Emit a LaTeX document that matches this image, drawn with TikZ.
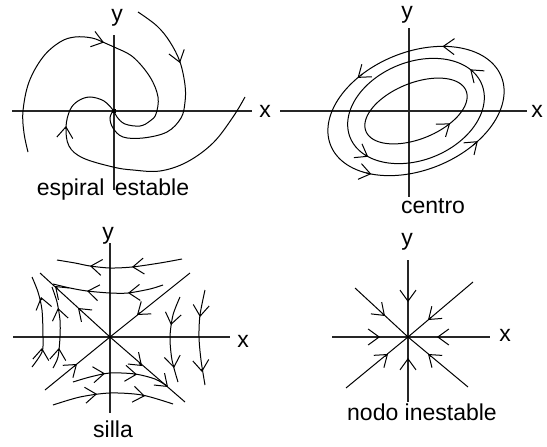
\documentclass[tikz,border=0pt]{standalone}
\usepackage{fontspec}
\setmainfont{Liberation Sans}
\usetikzlibrary{arrows.meta}
\tikzset{
  axis/.style={line width=1.5pt, black!85},
  traj/.style={line width=1pt, black},
  arr/.style={line width=1pt, -{Straight Barb[length=11pt,width=16pt]}},
  lbl/.style={font=\fontsize{23}{27}\selectfont, inner sep=0pt},
}
\newcommand\arh[4]{\draw[arr] ({#1-3*(#3)},{#2-3*(#4)}) -- (#1,#2);}
\newcommand\earh[3]{\draw[arr] ({416+#1*cos(#3-4)*cos(22)-#2*sin(#3-4)*sin(22)},{111-#1*cos(#3-4)*sin(22)-#2*sin(#3-4)*cos(22)}) -- ({416+#1*cos(#3)*cos(22)-#2*sin(#3)*sin(22)},{111-#1*cos(#3)*sin(22)-#2*sin(#3)*cos(22)});}
\newcommand\orbitell[2]{\draw[traj] plot[domain=0:357, samples=120, smooth cycle] ({416+#1*cos(\x)*cos(22)-#2*sin(\x)*sin(22)},{111-#1*cos(\x)*sin(22)-#2*sin(\x)*cos(22)});}
\begin{document}
\begin{tikzpicture}[x=1pt,y=-1pt]
\useasboundingbox (0,0) rectangle (547,447);
% ---------- espiral estable ----------
\draw[axis] (12,111) -- (252,111);
\draw[axis] (114,35) -- (114,190);
\node[lbl] (y1) at (117,18) {y};
\node[lbl] (x1) at (265,111) {x};
\fill (112,109) rectangle (116,113);
\draw[traj] plot[smooth,tension=0.6] coordinates {(28,152) (24,133) (23,111) (29,82) (43,57) (60,42) (75,37) (92,38) (105,43) (114,47) (133,57) (150,77) (158,97) (156,114) (150,121) (140,126) (125,124) (117,117) (114,111)};
\arh{104}{42.5}{1}{0.3}
\draw[traj] plot[smooth,tension=0.6] coordinates {(138,12) (157,26) (170,42) (180,62) (185,85) (185,102) (181,118) (167,132) (143,138) (123,137) (113,128) (110,118) (113,111)};
\arh{180}{63}{0.3}{1}
\draw[traj] plot[smooth,tension=0.6] coordinates {(245,97) (233,117) (213,143) (187,162) (160,171) (133,170) (113,167) (83,158) (69,146) (66,127) (70,110) (78,101) (90,97) (104,101) (113,110)};
\arh{66}{126}{0.1}{-1}
\node[lbl, anchor=base] (t1) at (113,195) {espiral\hspace{4pt} estable};
% ---------- centro ----------
\draw[axis] (280,111) -- (527,111);
\draw[axis] (409,28) -- (409,197);
\node[lbl] (y2) at (407,15) {y};
\node[lbl] (x2) at (537,111) {x};
\orbitell{92}{59}
\orbitell{71}{49}
\orbitell{54}{28}
\earh{92}{59}{58}
\earh{92}{59}{117}
\earh{92}{59}{225}
\earh{92}{59}{300}
\earh{71}{49}{22}
\earh{71}{49}{210}
\earh{54}{28}{300}
\node[lbl, anchor=base] (t2) at (433,213) {centro};
% ---------- silla ----------
\draw[axis] (13,337) -- (230,337);
\draw[axis] (110,243) -- (110,413);
\node[lbl] (y3) at (108,236) {y};
\node[lbl] (x3) at (243,341) {x};
\draw[traj] (40,273) -- (110,337) -- (185,402);
\draw[traj] (45,390) -- (110,337) -- (190,273);
\arh{55}{286}{-1}{-0.9}
\arh{78}{308}{-1}{-0.9}
\arh{142}{366}{1}{0.9}
\arh{168}{387}{1}{0.9}
\arh{77}{364}{1}{-0.82}
\arh{137}{315}{-1}{0.8}
\draw[traj] plot[smooth] coordinates {(57,260) (75,263) (90,266) (110,268) (132,267) (160,263) (182,259)};
\arh{90}{266}{-1}{-0.12}
\arh{132}{267}{-1}{0.08}
\draw[traj] plot[smooth] coordinates {(53,284) (70,288) (87,291) (110,293) (128,293) (150,289) (163,285)};
\arh{87}{291}{-1}{-0.15}
\arh{128}{293}{-1}{0.05}
\draw[traj] plot[smooth] coordinates {(32,277) (38,292) (42,310) (43,337) (42,352) (32,367)};
\arh{41}{297}{-0.25}{-1}
\arh{42}{348}{0.1}{-1}
\draw[traj] plot[smooth] coordinates {(52,287) (57,302) (60,320) (60,337) (58,357) (53,368)};
\arh{58}{308}{-0.2}{-1}
\arh{59}{348}{0.1}{-1}
\draw[traj] plot[smooth] coordinates {(180,297) (173,315) (170,337) (172,360) (178,382)};
\arh{171}{325}{-0.2}{1}
\arh{174}{368}{0.15}{1}
\draw[traj] plot[smooth] coordinates {(205,290) (200,315) (199,337) (201,360) (205,385)};
\arh{200}{317}{-0.1}{1}
\arh{202}{372}{0.1}{1}
\draw[traj] plot[smooth] coordinates {(73,382) (90,377) (110,373) (135,374) (155,379) (167,386)};
\arh{105}{373.5}{1}{-0.1}
\arh{137}{374.5}{1}{0.1}
\draw[traj] plot[smooth] coordinates {(53,405) (80,397) (110,393) (142,395) (173,404)};
\arh{97}{394}{1}{-0.1}
\arh{145}{396}{1}{0.15}
\node[lbl, anchor=base] (t3) at (113,437) {silla};
% ---------- nodo inestable ----------
\draw[axis] (332,337) -- (490,337);
\draw[axis] (408,260) -- (408,402);
\node[lbl] (y4) at (407,242) {y};
\node[lbl] (x4) at (505,335) {x};
\draw[traj] (355,288) -- (408,337) -- (468,387);
\draw[traj] (473,282) -- (408,337) -- (346,388);
\arh{408}{302}{0}{1}
\arh{380}{337}{1}{0}
\arh{437}{337}{-1}{0}
\arh{408}{358}{0}{-1}
\arh{385}{316}{1}{0.92}
\arh{428}{320}{-1}{0.85}
\arh{388}{354}{1}{-0.82}
\arh{428}{354}{-1}{-0.83}
\node[lbl, anchor=base] (t4) at (422,420) {nodo inestable};
\end{tikzpicture}
\end{document}
